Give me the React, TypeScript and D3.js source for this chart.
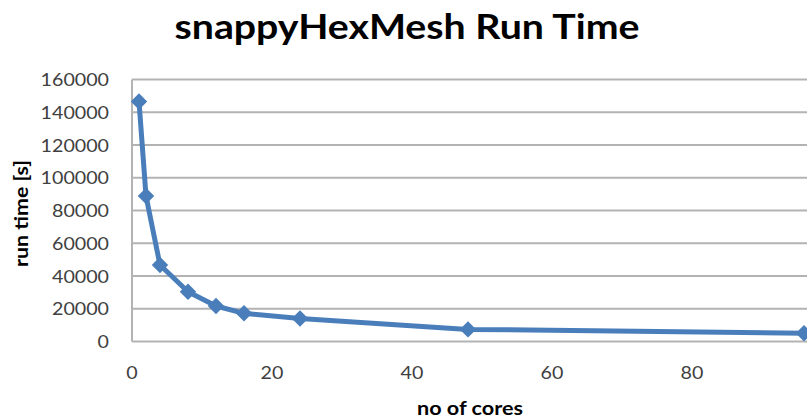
import React from "react";
import * as d3 from "d3";

const cores = [1, 2, 4, 8, 12, 16, 24, 48, 96];
const runTime = [146600, 88900, 46700, 30400, 21700, 17200, 14100, 7400, 5000];
const yTicks = [0, 20000, 40000, 60000, 80000, 100000, 120000, 140000, 160000];
const xTicks = [0, 20, 40, 60, 80];
const title = "snappyHexMesh Run Time";
const xTitle = "no of cores";
const yTitle = "run time [s]";

const W = 807;
const H = 419;
const FONT = "Lato, 'Open Sans', sans-serif";
const BLUE = "#4A7EBB";

export default function App() {
  const x = d3.scaleLinear().domain([0, 100]).range([132, 832]);
  const y = d3.scaleLinear().domain([0, 160000]).range([341.5, 79.5]);
  const line = d3
    .line<number>()
    .x((_, i) => x(cores[i]))
    .y((d) => y(d));
  const marker = d3.symbol().type(d3.symbolSquare).size(135)();
  const digitW = 11.4;

  return (
    <div style={{ position: "absolute", left: 0, top: 0, width: W, height: H, overflow: "hidden", background: "#fff" }}>
      <svg width={W} height={H} style={{ display: "block" }} fontFamily={FONT}>
        <rect width={W} height={H} fill="#fff" />
        <text x={407} y={38.5} textAnchor="middle" fontSize={35} fontWeight="bold" fill="#000" textLength={465} lengthAdjust="spacingAndGlyphs">
          {title}
        </text>
        {yTicks.map((t) => (
          <line key={"g" + t} x1={x(0)} x2={x(100)} y1={y(t)} y2={y(t)} stroke="#b3b3b3" strokeWidth={2} />
        ))}
        <line x1={x(0)} x2={x(0)} y1={y(160000)} y2={y(0)} stroke="#b3b3b3" strokeWidth={2} />
        {yTicks.map((t) => (
          <text key={"y" + t} x={109} y={y(t) + 6.5} textAnchor="end" fontSize={18} fill="#404040" textLength={String(t).length * digitW} lengthAdjust="spacingAndGlyphs">
            {t}
          </text>
        ))}
        {xTicks.map((t) => (
          <text key={"x" + t} x={x(t)} y={379} textAnchor="middle" fontSize={18} fill="#404040" textLength={String(t).length * digitW} lengthAdjust="spacingAndGlyphs">
            {t}
          </text>
        ))}
        <text x={470} y={415} textAnchor="middle" fontSize={18} fontWeight="bold" fill="#000" textLength={106} lengthAdjust="spacingAndGlyphs">
          {xTitle}
        </text>
        <text transform="translate(28,213.5) rotate(-90)" textAnchor="middle" fontSize={18} fontWeight="bold" fill="#000" textLength={107} lengthAdjust="spacingAndGlyphs">
          {yTitle}
        </text>
        <path d={line(runTime) || ""} fill="none" stroke={BLUE} strokeWidth={5} strokeLinejoin="round" strokeLinecap="round" />
        {runTime.map((v, i) => (
          <path key={"m" + i} d={marker || ""} transform={`translate(${x(cores[i])},${y(v)}) rotate(45)`} fill={BLUE} />
        ))}
      </svg>
    </div>
  );
}
